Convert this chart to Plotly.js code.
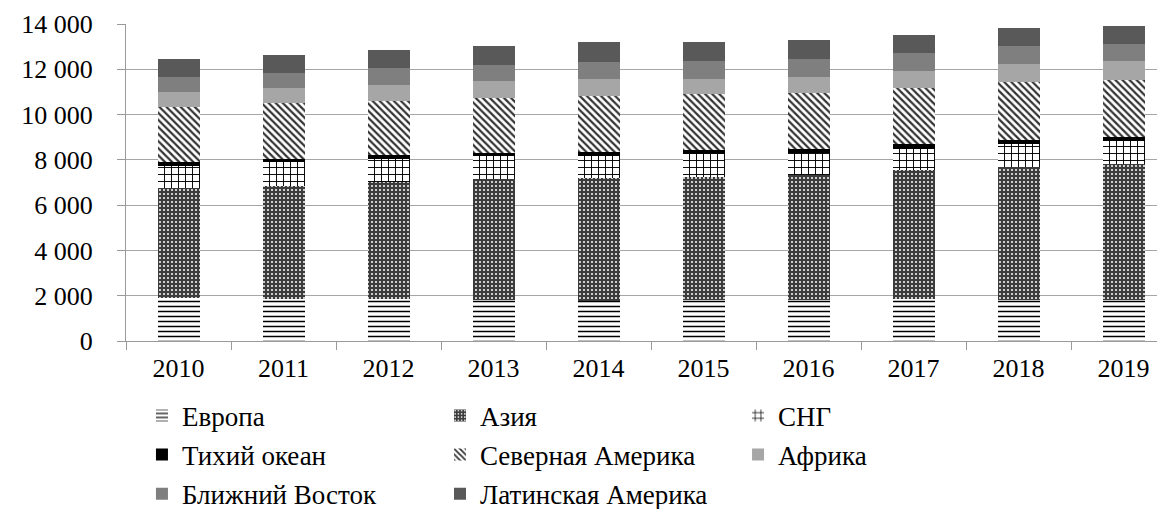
<!DOCTYPE html>
<html>
<head>
<meta charset="utf-8">
<script src="https://cdn.plot.ly/plotly-3.0.1.min.js"></script>
<style>
  html, body { margin: 0; padding: 0; background: #fff; }
  #grafico { width: 1157px; height: 509px; }
</style>
</head>
<body>
<div id="grafico"></div>
<script>
// Годы и значения по регионам (накопительные столбцы)
var anni = ["2010", "2011", "2012", "2013", "2014", "2015", "2016", "2017", "2018", "2019"];

var europa     = [1900, 1870, 1870, 1830, 1760, 1830, 1830, 1870, 1830, 1830];
var asia       = [4840, 4980, 5160, 5320, 5420, 5420, 5480, 5680, 5860, 5970];
var sng        = [1000, 1060, 1030, 1020,  990, 1000, 1000,  940, 1010, 1040];
var pacifico   = [ 170,  150,  150,  140,  160,  180,  150,  210,  170,  180];
var nordAmer   = [2430, 2460, 2400, 2430, 2490, 2480, 2480, 2460, 2550, 2510];
var africa     = [ 670,  670,  690,  740,  750,  660,  730,  760,  800,  840];
var vicVostok  = [ 660,  630,  740,  710,  760,  800,  770,  790,  810,  750];
var latAmer    = [ 780,  810,  810,  840,  860,  820,  850,  800,  780,  790];

var nomi = ["Европа", "Азия", "СНГ", "Тихий океан", "Северная Америка",
            "Африка", "Ближний Восток", "Латинская Америка"];

// legenda in tre colonne, come nel disegno originale
function serie(nome, valori, colore, colonna, pattern) {
    var m = { color: colore, line: { width: 0 } };
    if (pattern) m.pattern = pattern;
    return { type: 'bar', name: nome, x: anni, y: valori, marker: m,
             legend: colonna, legendgroup: nome };
}

var dati = [
    serie(nomi[0], europa, '#ffffff', 'legend', { shape: '-', fgcolor: '#000000', bgcolor: '#ffffff', size: 5, solidity: 0.3 }),
    serie(nomi[1], asia, '#3c3c3c', 'legend2', { shape: '.', fgcolor: '#ffffff', bgcolor: '#3c3c3c', size: 4, solidity: 0.2 }),
    serie(nomi[2], sng, '#ffffff', 'legend3', { shape: '+', fgcolor: '#000000', bgcolor: '#ffffff', size: 7, solidity: 0.25 }),
    serie(nomi[3], pacifico, '#000000', 'legend'),
    serie(nomi[4], nordAmer, '#ffffff', 'legend2', { shape: '\\', fgcolor: '#333333', bgcolor: '#ffffff', size: 5, solidity: 0.45 }),
    serie(nomi[5], africa, '#a6a6a6', 'legend3'),
    serie(nomi[6], vicVostok, '#7f7f7f', 'legend'),
    serie(nomi[7], latAmer, '#595959', 'legend2')
];

var fontSerif = 'Liberation Serif';

function colonnaLegenda(x) {
    return {
        orientation: 'v',
        xref: 'container', yref: 'container',
        x: x, xanchor: 'left',
        y: 0.231, yanchor: 'top',
        traceorder: 'grouped',
        tracegroupgap: 1,
        bgcolor: 'rgba(0,0,0,0)',
        font: { family: fontSerif, size: 27, color: '#000000' }
    };
}

var layout = {
    width: 1157,
    height: 509,
    margin: { l: 126, r: 0, t: 24, b: 168, autoexpand: false },
    paper_bgcolor: '#ffffff',
    plot_bgcolor: '#ffffff',
    barmode: 'stack',
    bargap: 0.6,
    separators: ', ',
    showlegend: true,
    font: { family: fontSerif, size: 26, color: '#000000' },
    xaxis: {
        type: 'category',
        range: [-0.5, 9.319],
        tickson: 'boundaries',
        ticks: 'outside',
        ticklen: 8,
        tickcolor: '#9a9a9a',
        showline: true,
        linecolor: '#9a9a9a',
        linewidth: 1,
        showgrid: false,
        tickangle: 0,
        ticklabelstandoff: 4,
        tickfont: { family: fontSerif, size: 26, color: '#000000' }
    },
    yaxis: {
        range: [0, 14000],
        dtick: 2000,
        tickformat: ',d',
        ticks: 'outside',
        ticklen: 8,
        tickcolor: '#9a9a9a',
        showline: true,
        linecolor: '#9a9a9a',
        linewidth: 1,
        showgrid: true,
        gridcolor: '#a6a6a6',
        gridwidth: 1,
        zeroline: false,
        ticklabelstandoff: 19,
        tickfont: { family: fontSerif, size: 26, color: '#000000' }
    },
    legend: colonnaLegenda(0.1227),
    legend2: colonnaLegenda(0.3803),
    legend3: colonnaLegenda(0.6379)
};

Plotly.newPlot('grafico', dati, layout, { displayModeBar: false, staticPlot: true });
</script>
</body>
</html>
